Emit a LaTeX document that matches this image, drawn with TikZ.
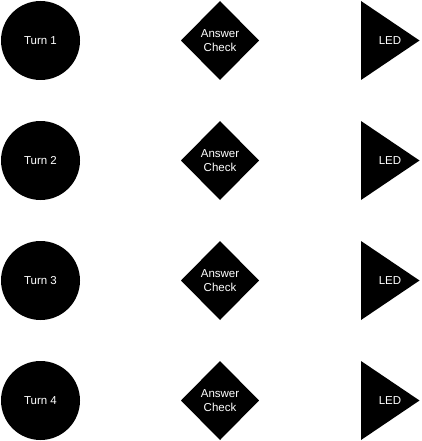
\documentclass[tikz,border=0pt]{standalone}
\usepackage{fontspec}
\setmainfont{Liberation Sans}
\begin{document}
\begin{tikzpicture}[x=1pt,y=-1pt,
  lbl/.style={text=white,font=\fontsize{11.5}{14.5}\selectfont,align=center,inner sep=0pt},
  shapefill/.style={fill=black}]
\useasboundingbox (0,0) rectangle (421,441);
\foreach \i/\y in {1/40.5,2/160.5,3/280.5,4/400.5}{
  \fill[shapefill] (40.5,\y) circle (39.5);
  \node[lbl] (turn\i) at (40.5,\y) {Turn \i};
  \fill[shapefill] (220,\y-39.5) -- (259,\y) -- (220,\y+39.5) -- (181,\y) -- cycle;
  \node[lbl] (check\i) at (220,\y) {Answer\\Check};
  \fill[shapefill] (361,\y-39.5) -- (419.5,\y) -- (361,\y+39.5) -- cycle;
  \node[lbl] (led\i) at (390,\y) {LED};
}
\end{tikzpicture}
\end{document}
